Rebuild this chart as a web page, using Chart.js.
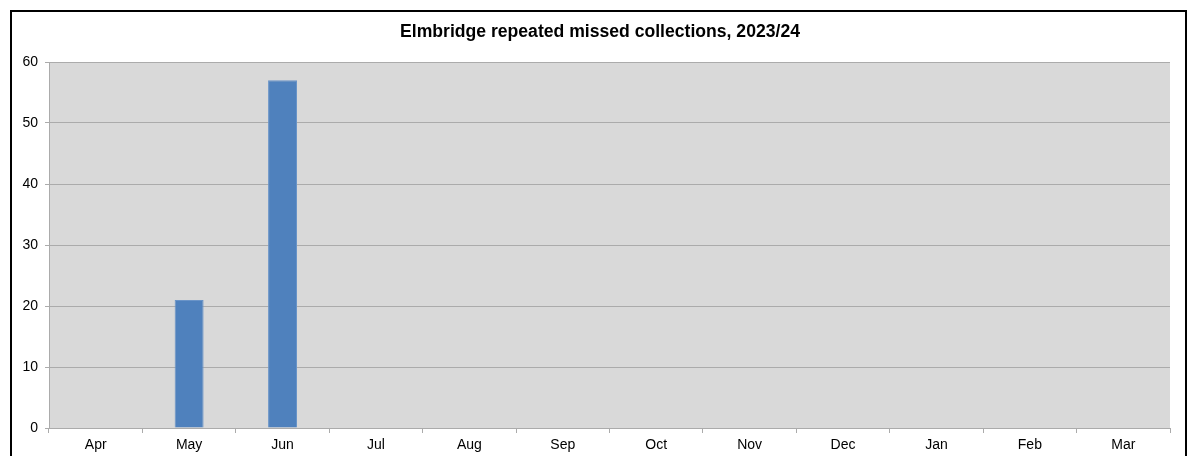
<!DOCTYPE html>
<html>
<head>
<meta charset="utf-8">
<script src="https://cdn.jsdelivr.net/npm/chart.js@4/dist/chart.umd.min.js"></script>
<style>
  html, body { margin: 0; padding: 0; background: #fff; }
  #wrap { width: 1200px; height: 456px; position: relative; }
</style>
</head>
<body>
<div id="wrap"><canvas id="chart"></canvas></div>
<script>
const months = ['Apr', 'May', 'Jun', 'Jul', 'Aug', 'Sep', 'Oct', 'Nov', 'Dec', 'Jan', 'Feb', 'Mar']
const missed = [null, 21, 57, null, null, null, null, null, null, null, null, null]
const yTicks = [0, 10, 20, 30, 40, 50, 60]
const chartTitle = 'Elmbridge repeated missed collections, 2023/24'

// grey plot area, black frame round the whole chart and the title centred on that frame
const framePlugin = {
  id: 'frame',
  beforeDraw(chart) {
    const { ctx, chartArea: a } = chart
    ctx.save()
    ctx.fillStyle = '#fff'
    ctx.fillRect(0, 0, chart.width, chart.height)
    ctx.fillStyle = '#d9d9d9'
    ctx.fillRect(a.left, a.top, a.right - a.left, a.bottom - a.top)
    ctx.strokeStyle = '#000'
    ctx.lineWidth = 2
    ctx.strokeRect(11, 11, 1175, 500)
    ctx.fillStyle = '#000'
    ctx.font = 'bold 17.6px "Liberation Sans", Arial, sans-serif'
    ctx.textAlign = 'center'
    ctx.textBaseline = 'middle'
    ctx.fillText(chartTitle, 600, 32)
    ctx.restore()
  }
}

new Chart(document.getElementById('chart'), {
  type: 'bar',
  data: {
    labels: months,
    datasets: [{
      label: 'Repeated missed collections',
      data: missed,
      backgroundColor: '#4f81bd',
      borderColor: '#6a94c8',
      borderWidth: 1,
      barPercentage: 0.31,
      categoryPercentage: 1
    }]
  },
  options: {
    animation: false,
    responsive: true,
    maintainAspectRatio: false,
    layout: { padding: { left: 15, right: 30, top: 62, bottom: 0 } },
    plugins: {
      legend: { display: false },
      tooltip: { enabled: false },
      title: { display: false }
    },
    scales: {
      x: {
        offset: true,
        grid: { offset: true, drawOnChartArea: false, drawTicks: true, tickLength: 5, color: '#ababab' },
        border: { color: '#ababab', width: 1 },
        ticks: { color: '#000', padding: 4, font: { family: 'Liberation Sans, Arial, sans-serif', size: 14 } },
        afterFit(scale) { scale.height = 28 }
      },
      y: {
        min: 0,
        max: 60,
        afterBuildTicks(scale) { scale.ticks = yTicks.map(v => ({ value: v })) },
        grid: { color: '#ababab', tickLength: 4, drawTicks: true },
        border: { color: '#ababab', width: 1 },
        ticks: { color: '#000', padding: 7, font: { family: 'Liberation Sans, Arial, sans-serif', size: 14 } },
        afterFit(scale) { scale.width = 34 }
      }
    }
  },
  plugins: [framePlugin]
})
</script>
</body>
</html>
